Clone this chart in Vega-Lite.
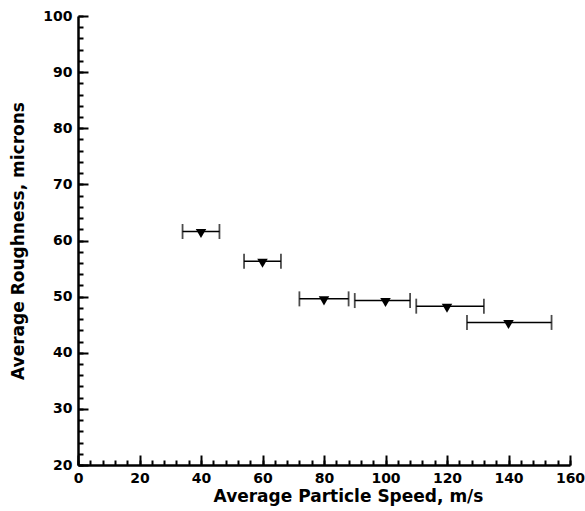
{
  "$schema": "https://vega.github.io/schema/vega-lite/v6.json",
  "width": 492,
  "height": 449,
  "autosize": "none",
  "padding": {"left": 78, "top": 16, "right": 15, "bottom": 46},
  "background": "white",
  "config": {
    "view": {"stroke": null},
    "font": "DejaVu Sans",
    "axis": {
      "grid": false,
      "domainColor": "black",
      "tickColor": "black",
      "labelColor": "black",
      "titleColor": "black",
      "labelFont": "DejaVu Sans",
      "titleFont": "DejaVu Sans",
      "labelFontWeight": "bold",
      "titleFontWeight": "bold",
      "labelFontSize": 14,
      "titleFontSize": 17
    }
  },
  "data": {
    "values": [
      {"speed": 40, "rough": 61.6, "lo": 34, "hi": 46},
      {"speed": 60, "rough": 56.3, "lo": 54, "hi": 66},
      {"speed": 80, "rough": 49.6, "lo": 72, "hi": 88},
      {"speed": 100, "rough": 49.3, "lo": 90, "hi": 108},
      {"speed": 120, "rough": 48.3, "lo": 110, "hi": 132},
      {"speed": 140, "rough": 45.4, "lo": 126.5, "hi": 154}
    ]
  },
  "layer": [
    {
      "mark": {"type": "rule", "color": "black", "strokeWidth": 1.5},
      "encoding": {
        "x": {
          "field": "lo", "type": "quantitative",
          "scale": {"domain": [0, 160], "nice": false, "zero": false},
          "axis": {
            "orient": "bottom", "values": [0,4,8,12,16,20,24,28,32,36,40,44,48,52,56,60,64,68,72,76,80,84,88,92,96,100,104,108,112,116,120,124,128,132,136,140,144,148,152,156,160],
            "tickSize": -5, "tickWidth": 2, "labels": false, "domain": false, "title": null
          }
        },
        "x2": {"field": "hi"},
        "y": {
          "field": "rough", "type": "quantitative",
          "scale": {"domain": [20, 100], "nice": false, "zero": false},
          "axis": {
            "orient": "left", "values": [20,22,24,26,28,30,32,34,36,38,40,42,44,46,48,50,52,54,56,58,60,62,64,66,68,70,72,74,76,78,80,82,84,86,88,90,92,94,96,98,100],
            "tickSize": -5, "tickWidth": 2, "labels": false, "domain": false, "title": null
          }
        }
      }
    },
    {
      "mark": {"type": "tick", "orient": "vertical", "color": "black", "size": 15, "thickness": 1.8},
      "encoding": {
        "x": {
          "field": "lo", "type": "quantitative",
          "axis": {
            "orient": "bottom", "values": [0,20,40,60,80,100,120,140,160],
            "tickSize": -10, "tickWidth": 2, "domainWidth": 2.5, "labelPadding": 16,
            "labelFlush": false, "labelOverlap": false,
            "title": "Average Particle Speed, m/s", "titlePadding": 3, "titleX": 270, "titleAnchor": null
          }
        },
        "y": {
          "field": "rough", "type": "quantitative",
          "axis": {
            "orient": "left", "values": [20,30,40,50,60,70,80,90,100],
            "tickSize": -10, "tickWidth": 2, "domainWidth": 2.5, "labelPadding": 16,
            "labelFlush": false, "labelOverlap": false,
            "title": "Average Roughness, microns", "titlePadding": 15
          }
        }
      }
    },
    {
      "mark": {"type": "tick", "orient": "vertical", "color": "black", "size": 15, "thickness": 1.8},
      "encoding": {
        "x": {"field": "hi", "type": "quantitative", "axis": null},
        "y": {"field": "rough", "type": "quantitative", "axis": null}
      }
    },
    {
      "mark": {"type": "point", "shape": "triangle-down", "filled": true, "color": "black", "opacity": 1, "size": 110, "yOffset": 2},
      "encoding": {
        "x": {"field": "speed", "type": "quantitative", "axis": null},
        "y": {"field": "rough", "type": "quantitative", "axis": null}
      }
    }
  ],
  "resolve": {"axis": {"x": "independent", "y": "independent"}}
}
